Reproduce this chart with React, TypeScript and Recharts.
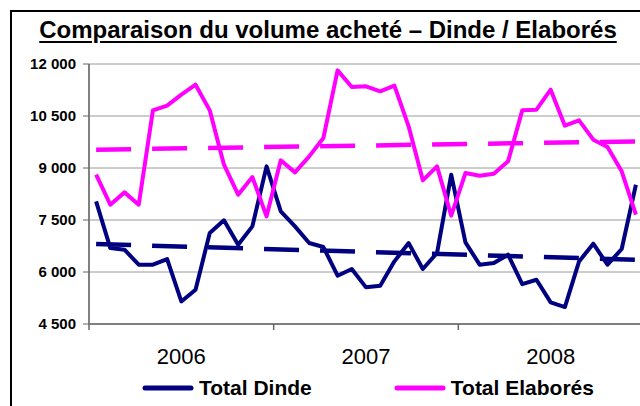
import React from 'react';
import { LineChart, Line, XAxis, YAxis, CartesianGrid, Legend } from 'recharts';

// ---- Data ----
const YEARS = ['2006', '2007', '2008'];
const PERIODS = ['P1', 'P2', 'P3', 'P4', 'P5', 'P6', 'P7', 'P8', 'P9', 'P10', 'P11', 'P12', 'P13'];

const TOTAL_DINDE = [
  8038, 6691, 6643, 6211, 6211, 6374, 5150, 5489, 7124, 7490, 6788, 7316, 9048,
  7749, 7316, 6836, 6720, 5893, 6086, 5557, 5605, 6307, 6836, 6086, 6547, 8807,
  6855, 6211, 6259, 6499, 5650, 5777, 5123, 4989, 6305, 6816, 6210, 6663, 8518,
];

const TOTAL_ELABORES = [
  8807, 7942, 8297, 7942, 10663, 10798, 11115, 11404, 10663, 9096, 8230, 8740, 7605,
  9221, 8874, 9336, 9865, 11817, 11336, 11356, 11211, 11375, 10202, 8644, 9048, 7624,
  8855, 8778, 8836, 9192, 10663, 10682, 11259, 10221, 10375, 9817, 9605, 8903, 7653,
];

// linear trend lines: value at first and last period
const TREND_DINDE = [6807, 6354];
const TREND_ELABORES = [9528, 9767];

const Y_TICKS = [4500, 6000, 7500, 9000, 10500, 12000];

const SERIES_NAMES = { dinde: 'Total Dinde', elab: 'Total Elaborés' };
const TITLE = 'Comparaison du volume acheté – Dinde / Elaborés';

// ---- Build table ----
const CATEGORIES = YEARS.flatMap((y) => PERIODS.map((p) => ({ year: y, period: p })));
const LAST = CATEGORIES.length - 1;
const data = CATEGORIES.map((c, i) => ({
  key: `${c.year} ${c.period}`,
  year: c.year,
  dinde: TOTAL_DINDE[i],
  elab: TOTAL_ELABORES[i],
  trendDinde: i === 0 ? TREND_DINDE[0] : i === LAST ? TREND_DINDE[1] : null,
  trendElab: i === 0 ? TREND_ELABORES[0] : i === LAST ? TREND_ELABORES[1] : null,
}));

// ---- Layout ----
const FONT = '"Liberation Sans", Arial, Helvetica, sans-serif';
const NAVY = '#000080';
const PINK = '#FF00FF';
const CHART_W = 700;
const CHART_H = 406;
const MARGIN = { top: 64, right: 57, bottom: 0, left: 0 };
const Y_AXIS_W = 89;
const LEGEND_H = 36;
const X_AXIS_H = 46;
const PLOT_W = CHART_W - MARGIN.left - MARGIN.right - Y_AXIS_W;
const BAND = PLOT_W / CATEGORIES.length;

const fmt = (v: number) => {
  const s = String(v);
  return s.length > 3 ? s.slice(0, s.length - 3) + ' ' + s.slice(s.length - 3) : s;
};

const XTick = (props: any) => {
  const { x, y, index } = props;
  const parts: any[] = [];
  if (index % PERIODS.length === 0) {
    parts.push(
      <line key="t" x1={x - BAND / 2} x2={x - BAND / 2} y1={y} y2={y + 6} stroke="#666" strokeWidth={1.5} />
    );
  }
  if (index === LAST) {
    parts.push(
      <line key="e" x1={x + BAND / 2} x2={x + BAND / 2} y1={y} y2={y + 6} stroke="#666" strokeWidth={1.5} />
    );
  }
  if (index % PERIODS.length === Math.floor(PERIODS.length / 2)) {
    parts.push(
      <text key="l" x={x} y={y + 40} textAnchor="middle" fontSize={22} fontFamily={FONT} fill="#000">
        {data[index].year}
      </text>
    );
  }
  return <g>{parts}</g>;
};

const renderLegend = () => {
  const items = [
    { name: SERIES_NAMES.dinde, color: NAVY },
    { name: SERIES_NAMES.elab, color: PINK },
  ];
  return (
    <div
      style={{
        height: LEGEND_H,
        display: 'flex',
        alignItems: 'center',
        paddingLeft: 142,
        fontFamily: FONT,
      }}
    >
      {items.map((it, i) => (
        <div key={it.name} style={{ display: 'flex', alignItems: 'center', marginRight: i === 0 ? 82 : 0 }}>
          <svg width={52} height={10} style={{ display: 'block' }}>
            <line x1={3} x2={49} y1={5} y2={5} stroke={it.color} strokeWidth={5} strokeLinecap="round" />
          </svg>
          <span style={{ marginLeft: 5, fontSize: 21, fontWeight: 'bold', color: '#000', lineHeight: '24px' }}>
            {it.name}
          </span>
        </div>
      ))}
    </div>
  );
};

export default function App() {
  return (
    <div
      style={{
        position: 'absolute',
        left: 0,
        top: 0,
        width: 640,
        height: 406,
        overflow: 'hidden',
        background: '#fff',
        fontFamily: FONT,
      }}
    >
      <div
        style={{
          position: 'absolute',
          left: 10,
          top: 10,
          width: 700,
          height: 500,
          border: '2px solid #000',
        }}
      />
      <div style={{ position: 'absolute', left: 0, top: 0 }}>
        <LineChart width={CHART_W} height={CHART_H} data={data} margin={MARGIN}>
          <CartesianGrid vertical={false} stroke="#9a9a9a" strokeWidth={1} />
          <XAxis
            dataKey="key"
            interval={0}
            height={X_AXIS_H}
            padding={{ left: BAND / 2, right: BAND / 2 }}
            tickLine={false}
            tickSize={0}
            tickMargin={0}
            tick={<XTick />}
            axisLine={{ stroke: '#666', strokeWidth: 1.5 }}
          />
          <YAxis
            width={Y_AXIS_W}
            domain={[4500, 12000]}
            ticks={Y_TICKS}
            interval={0}
            tickFormatter={fmt}
            tickSize={6}
            tickMargin={7}
            tickLine={{ stroke: '#666' }}
            axisLine={{ stroke: '#808080', strokeWidth: 2 }}
            tick={{ fill: '#000', fontSize: 15, fontWeight: 'bold', fontFamily: FONT }}
          />
          <Legend verticalAlign="bottom" height={LEGEND_H} content={renderLegend} />
          <Line
            dataKey="dinde"
            name={SERIES_NAMES.dinde}
            stroke={NAVY}
            strokeWidth={4}
            strokeLinejoin="round"
            dot={false}
            activeDot={false}
            isAnimationActive={false}
          />
          <Line
            dataKey="elab"
            name={SERIES_NAMES.elab}
            stroke={PINK}
            strokeWidth={4}
            strokeLinejoin="round"
            dot={false}
            activeDot={false}
            isAnimationActive={false}
          />
          <Line
            dataKey="trendDinde"
            legendType="none"
            stroke={NAVY}
            strokeWidth={4.5}
            strokeDasharray="35 21"
            connectNulls
            dot={false}
            activeDot={false}
            isAnimationActive={false}
          />
          <Line
            dataKey="trendElab"
            legendType="none"
            stroke={PINK}
            strokeWidth={4.5}
            strokeDasharray="35 21"
            connectNulls
            dot={false}
            activeDot={false}
            isAnimationActive={false}
          />
        </LineChart>
      </div>
      <div
        style={{
          position: 'absolute',
          left: 12,
          width: 632,
          top: 16,
          textAlign: 'center',
          fontSize: 24,
          lineHeight: '28px',
          fontWeight: 'bold',
          textDecoration: 'underline',
          textDecorationThickness: 2,
          textUnderlineOffset: 3,
          whiteSpace: 'nowrap',
          color: '#000',
        }}
      >
        {TITLE}
      </div>
    </div>
  );
}
